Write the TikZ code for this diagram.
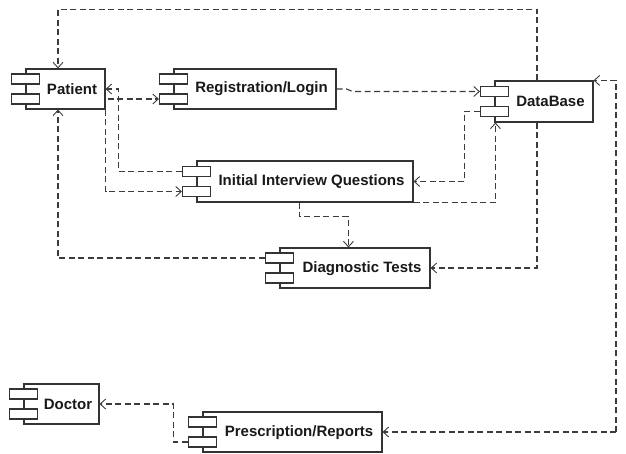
\documentclass[tikz,border=0pt]{standalone}
\usepackage{fontspec}
\setmainfont{Liberation Sans}
\usetikzlibrary{calc,arrows.meta}

\definecolor{boxline}{HTML}{333333}
\definecolor{depline}{HTML}{3C3C3C}

\tikzset{
  compbody/.style={draw=boxline, line width=1.1pt, fill=white, inner sep=0pt},
  comptab/.style={draw=boxline, line width=1.1pt, fill=white, inner sep=0pt,
    minimum width=28, minimum height=10},
  complabel/.style={font=\bfseries\fontsize{15}{18}\selectfont, text=black!90, inner sep=0pt},
  dep/.style={draw=depline, line width=1.1pt, dash pattern=on 6pt off 3.5pt,
    -{Straight Barb[length=5.5pt,width=10pt,line width=0.9pt]}},
}

% component symbol: name, left, top, right, bottom (image coordinates)
\newcommand\component[5]{%
  \node[compbody, minimum width={#4-#2}, minimum height={#5-#3}]
    (#1) at ({(#2+#4)/2},{(#3+#5)/2}) {};
  \node[comptab] (#1-a) at ($(#1.west)+(0,-10)$) {};
  \node[comptab] (#1-b) at ($(#1.west)+(0,10)$) {};
}

\begin{document}
\begin{tikzpicture}[x=1pt,y=-1pt]
\useasboundingbox (0,0) rectangle (626,454);

% components
\component{pat}{26}{69}{105}{109}
\component{reg}{174}{69}{336}{109}
\component{iiq}{197}{161}{413}{202}
\component{db}{495}{81}{593}{122}
\component{dt}{280}{248}{430}{288}
\component{doc}{24}{384}{99}{424}
\component{pr}{203}{412}{382}{452}

% labels
\node[complabel] (pat-t) at (72,89) {Patient};
\node[complabel] (reg-t) at (261.5,89) {Registration/Login};
\node[complabel] (iiq-t) at (311.5,181.5) {Initial Interview Questions};
\node[complabel] (db-t) at (550.5,101) {DataBase};
\node[complabel] (dt-t) at (362,268.5) {Diagnostic Tests};
\node[complabel] (doc-t) at (68,404) {Doctor};
\node[complabel] (pr-t) at (299,432.5) {Prescription/Reports};

% junction on the right-hand side
\coordinate (hub) at (616,432);

% dependencies
\draw[dep] ($(db.north)+(-7,0)$) -- ++(0,-71) -| ($(pat.north)+(-7.5,0)$);
\draw[dep] (iiq-a.west) -| ($(pat.east)+(13,0)$) -- (pat.east);
\draw[dep] ($(pat.east)+(2,10)$) -- (reg-b.west);
\draw[dep] (pat.south east) |- (iiq-b.west);
\draw[dep] (reg.east) -- ++(10,0) -- ++(6,2.5) -- (db-a.west);
\draw[dep] (db-b.west) -- ++(-15,0) |- (iiq.east);
\draw[dep] (iiq.south east) -| ($(db.south west)+(1,0)$);
\draw[dep] ($(iiq.south west)+(103,0)$) -- ++(0,14) -| ($(dt.north west)+(69,0)$);
\draw[dep] ($(db.south)+(-7,0)$) |- (dt.east);
\draw[dep] (dt-a.west) -| ($(pat.south)+(-7.5,0)$);
\draw[dep] (hub) |- (db.north east);
\draw[dep] (hub) -- (pr.east);
\draw[dep] (pr-b.west) -- ++(-14,0) |- (doc.east);
\end{tikzpicture}
\end{document}
